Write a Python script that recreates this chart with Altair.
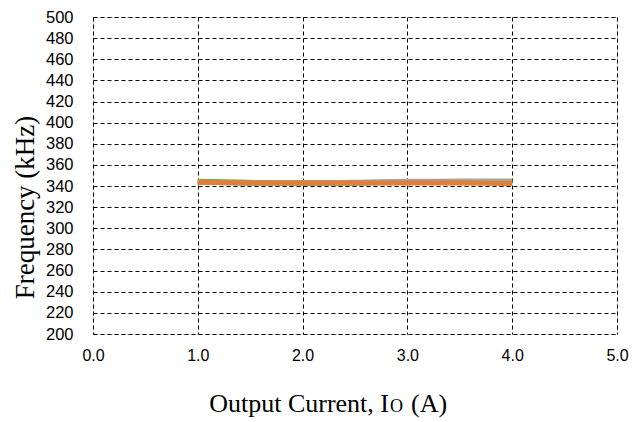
import altair as alt
import pandas as pd

current = [1.0, 1.5, 2.0, 2.5, 3.0, 3.5, 4.0]
series_names = ["A", "B", "C", "D"]
freq_a = [343.5, 343.0, 343.0, 343.0, 343.5, 344.0, 344.0]
freq_b = [344.5, 343.5, 343.0, 343.0, 344.0, 344.5, 344.5]
freq_c = [343.5, 343.0, 343.0, 343.5, 344.5, 344.5, 344.5]
freq_d = [343.5, 343.0, 343.0, 343.0, 343.0, 343.0, 342.5]
colors = ["#3A93A8", "#70AD47", "#A5A5A5", "#E07F35"]

rows = []
for i, (name, vals) in enumerate(zip(series_names, [freq_a, freq_b, freq_c, freq_d])):
    for x, y in zip(current, vals):
        rows.append({"series": name, "order": i, "current": x, "freq": y})
df = pd.DataFrame(rows)

W, H = 524, 317

base = alt.Chart(df).encode(
    x=alt.X("current:Q", scale=alt.Scale(domain=[0, 5], nice=False),
            axis=alt.Axis(values=[0, 1, 2, 3, 4, 5], format=".1f", title=None,
                          grid=True, gridColor="#000", gridDash=[4, 3], gridWidth=1,
                          ticks=False, domain=False, labelFont="Liberation Sans",
                          labelFontSize=16, labelColor="#000", labelPadding=13,
                          labelFlush=False)),
    y=alt.Y("freq:Q", scale=alt.Scale(domain=[200, 500], nice=False),
            axis=alt.Axis(values=list(range(200, 501, 20)), title="Frequency (kHz)",
                          grid=True, gridColor="#000", gridDash=[4, 3], gridWidth=1,
                          ticks=False, domain=False, labelFont="Liberation Sans",
                          labelFontSize=16.5, labelColor="#000", labelPadding=20,
                          titleFont="Liberation Serif", titleFontSize=27,
                          titleFontWeight="normal", titleColor="#000", titlePadding=6,
                          titleY=190)),
)

lines = base.mark_line(strokeWidth=5, strokeCap="butt").encode(
    color=alt.Color("series:N", scale=alt.Scale(domain=series_names, range=colors), legend=None),
    order="order:Q",
    detail="series:N",
)

ty = H + 78
t1 = alt.Chart(pd.DataFrame({"t": ["Output Current, I"]})).mark_text(
    font="Liberation Serif", fontSize=26, align="right", baseline="alphabetic", color="#000"
).encode(text="t:N", x=alt.value(296), y=alt.value(ty))
t2 = alt.Chart(pd.DataFrame({"t": ["O"]})).mark_text(
    font="Liberation Serif", fontSize=18, align="left", baseline="alphabetic", color="#000"
).encode(text="t:N", x=alt.value(297), y=alt.value(ty))
t3 = alt.Chart(pd.DataFrame({"t": ["(A)"]})).mark_text(
    font="Liberation Serif", fontSize=26, align="left", baseline="alphabetic", color="#000"
).encode(text="t:N", x=alt.value(318), y=alt.value(ty))

chart = alt.layer(lines, t1, t2, t3).properties(
    width=W, height=H,
    autosize=alt.AutoSizeParams(type="none"),
    padding={"left": 93, "top": 17, "right": 16, "bottom": 88},
).configure_view(stroke="#000", strokeWidth=2).configure(background="#ffffff")

chart.save("out.html", embed_options={"renderer": "svg", "actions": False})
